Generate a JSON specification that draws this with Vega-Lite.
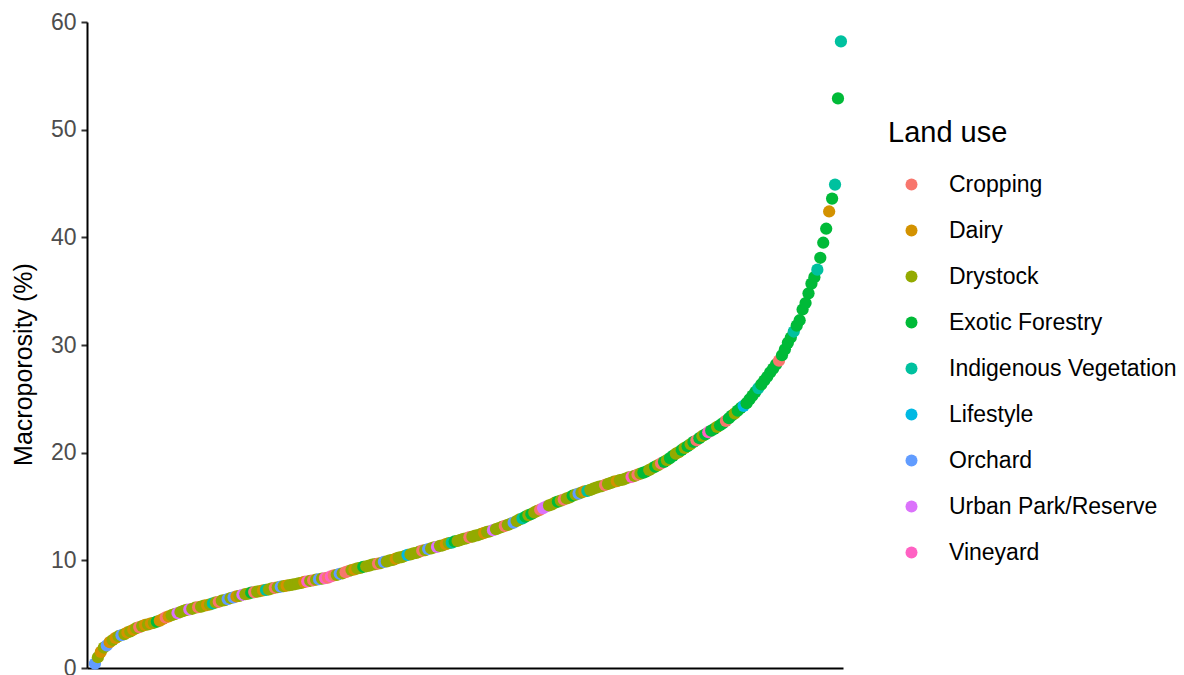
{
  "$schema": "https://vega.github.io/schema/vega-lite/v6.json",
  "autosize": "none",
  "width": 756,
  "height": 646,
  "padding": {"left": 87, "top": 22, "right": 341, "bottom": 7},
  "background": "white",
  "config": {
    "view": {"stroke": null},
    "font": "Liberation Sans, Arial, sans-serif"
  },
  "data": {"values": [
{"rank":1,"mp":0.4,"lu":"Orchard"},{"rank":2,"mp":1.0,"lu":"Drystock"},{"rank":3,"mp":1.5,"lu":"Dairy"},{"rank":4,"mp":1.9,"lu":"Drystock"},{"rank":5,"mp":2.1,"lu":"Orchard"},{"rank":6,"mp":2.4,"lu":"Dairy"},{"rank":7,"mp":2.6,"lu":"Drystock"},{"rank":8,"mp":2.8,"lu":"Dairy"},{"rank":9,"mp":2.95,"lu":"Drystock"},{"rank":10,"mp":3.05,"lu":"Orchard"},
{"rank":11,"mp":3.15,"lu":"Drystock"},{"rank":12,"mp":3.3,"lu":"Dairy"},{"rank":13,"mp":3.4,"lu":"Drystock"},{"rank":14,"mp":3.55,"lu":"Dairy"},{"rank":15,"mp":3.7,"lu":"Drystock"},{"rank":16,"mp":3.8,"lu":"Cropping"},{"rank":17,"mp":3.9,"lu":"Drystock"},{"rank":18,"mp":4.0,"lu":"Dairy"},{"rank":19,"mp":4.05,"lu":"Drystock"},{"rank":20,"mp":4.15,"lu":"Dairy"},
{"rank":21,"mp":4.2,"lu":"Drystock"},{"rank":22,"mp":4.3,"lu":"Exotic Forestry"},{"rank":23,"mp":4.4,"lu":"Dairy"},{"rank":24,"mp":4.55,"lu":"Dairy"},{"rank":25,"mp":4.7,"lu":"Cropping"},{"rank":26,"mp":4.8,"lu":"Dairy"},{"rank":27,"mp":4.9,"lu":"Drystock"},{"rank":28,"mp":5.0,"lu":"Drystock"},{"rank":29,"mp":5.1,"lu":"Urban Park/Reserve"},{"rank":30,"mp":5.2,"lu":"Drystock"},
{"rank":31,"mp":5.3,"lu":"Drystock"},{"rank":32,"mp":5.4,"lu":"Drystock"},{"rank":33,"mp":5.45,"lu":"Urban Park/Reserve"},{"rank":34,"mp":5.5,"lu":"Drystock"},{"rank":35,"mp":5.6,"lu":"Drystock"},{"rank":36,"mp":5.65,"lu":"Cropping"},{"rank":37,"mp":5.7,"lu":"Drystock"},{"rank":38,"mp":5.8,"lu":"Drystock"},{"rank":39,"mp":5.85,"lu":"Dairy"},{"rank":40,"mp":5.9,"lu":"Drystock"},
{"rank":41,"mp":6.0,"lu":"Indigenous Vegetation"},{"rank":42,"mp":6.1,"lu":"Drystock"},{"rank":43,"mp":6.15,"lu":"Cropping"},{"rank":44,"mp":6.25,"lu":"Drystock"},{"rank":45,"mp":6.3,"lu":"Drystock"},{"rank":46,"mp":6.4,"lu":"Orchard"},{"rank":47,"mp":6.5,"lu":"Drystock"},{"rank":48,"mp":6.55,"lu":"Orchard"},{"rank":49,"mp":6.65,"lu":"Dairy"},{"rank":50,"mp":6.7,"lu":"Drystock"},
{"rank":51,"mp":6.8,"lu":"Urban Park/Reserve"},{"rank":52,"mp":6.85,"lu":"Drystock"},{"rank":53,"mp":6.9,"lu":"Drystock"},{"rank":54,"mp":7.0,"lu":"Exotic Forestry"},{"rank":55,"mp":7.05,"lu":"Cropping"},{"rank":56,"mp":7.1,"lu":"Drystock"},{"rank":57,"mp":7.15,"lu":"Drystock"},{"rank":58,"mp":7.2,"lu":"Dairy"},{"rank":59,"mp":7.25,"lu":"Indigenous Vegetation"},{"rank":60,"mp":7.3,"lu":"Drystock"},
{"rank":61,"mp":7.4,"lu":"Drystock"},{"rank":62,"mp":7.45,"lu":"Cropping"},{"rank":63,"mp":7.5,"lu":"Drystock"},{"rank":64,"mp":7.55,"lu":"Orchard"},{"rank":65,"mp":7.6,"lu":"Drystock"},{"rank":66,"mp":7.65,"lu":"Dairy"},{"rank":67,"mp":7.7,"lu":"Drystock"},{"rank":68,"mp":7.75,"lu":"Drystock"},{"rank":69,"mp":7.8,"lu":"Drystock"},{"rank":70,"mp":7.85,"lu":"Drystock"},
{"rank":71,"mp":7.9,"lu":"Drystock"},{"rank":72,"mp":8.0,"lu":"Dairy"},{"rank":73,"mp":8.05,"lu":"Vineyard"},{"rank":74,"mp":8.1,"lu":"Drystock"},{"rank":75,"mp":8.15,"lu":"Cropping"},{"rank":76,"mp":8.2,"lu":"Drystock"},{"rank":77,"mp":8.25,"lu":"Orchard"},{"rank":78,"mp":8.3,"lu":"Drystock"},{"rank":79,"mp":8.35,"lu":"Vineyard"},{"rank":80,"mp":8.4,"lu":"Cropping"},
{"rank":81,"mp":8.5,"lu":"Vineyard"},{"rank":82,"mp":8.6,"lu":"Cropping"},{"rank":83,"mp":8.65,"lu":"Drystock"},{"rank":84,"mp":8.75,"lu":"Orchard"},{"rank":85,"mp":8.8,"lu":"Drystock"},{"rank":86,"mp":8.9,"lu":"Cropping"},{"rank":87,"mp":9.0,"lu":"Cropping"},{"rank":88,"mp":9.1,"lu":"Drystock"},{"rank":89,"mp":9.15,"lu":"Dairy"},{"rank":90,"mp":9.25,"lu":"Drystock"},
{"rank":91,"mp":9.3,"lu":"Drystock"},{"rank":92,"mp":9.4,"lu":"Exotic Forestry"},{"rank":93,"mp":9.45,"lu":"Drystock"},{"rank":94,"mp":9.5,"lu":"Drystock"},{"rank":95,"mp":9.6,"lu":"Drystock"},{"rank":96,"mp":9.65,"lu":"Drystock"},{"rank":97,"mp":9.7,"lu":"Cropping"},{"rank":98,"mp":9.75,"lu":"Drystock"},{"rank":99,"mp":9.85,"lu":"Orchard"},{"rank":100,"mp":9.9,"lu":"Drystock"},
{"rank":101,"mp":10.0,"lu":"Drystock"},{"rank":102,"mp":10.05,"lu":"Drystock"},{"rank":103,"mp":10.15,"lu":"Dairy"},{"rank":104,"mp":10.25,"lu":"Drystock"},{"rank":105,"mp":10.3,"lu":"Drystock"},{"rank":106,"mp":10.4,"lu":"Drystock"},{"rank":107,"mp":10.5,"lu":"Lifestyle"},{"rank":108,"mp":10.55,"lu":"Drystock"},{"rank":109,"mp":10.65,"lu":"Drystock"},{"rank":110,"mp":10.7,"lu":"Drystock"},
{"rank":111,"mp":10.8,"lu":"Drystock"},{"rank":112,"mp":10.9,"lu":"Cropping"},{"rank":113,"mp":10.95,"lu":"Drystock"},{"rank":114,"mp":11.05,"lu":"Orchard"},{"rank":115,"mp":11.1,"lu":"Drystock"},{"rank":116,"mp":11.2,"lu":"Drystock"},{"rank":117,"mp":11.25,"lu":"Urban Park/Reserve"},{"rank":118,"mp":11.35,"lu":"Drystock"},{"rank":119,"mp":11.4,"lu":"Drystock"},{"rank":120,"mp":11.5,"lu":"Dairy"},
{"rank":121,"mp":11.6,"lu":"Drystock"},{"rank":122,"mp":11.65,"lu":"Indigenous Vegetation"},{"rank":123,"mp":11.75,"lu":"Exotic Forestry"},{"rank":124,"mp":11.8,"lu":"Drystock"},{"rank":125,"mp":11.9,"lu":"Drystock"},{"rank":126,"mp":12.0,"lu":"Drystock"},{"rank":127,"mp":12.05,"lu":"Drystock"},{"rank":128,"mp":12.15,"lu":"Cropping"},{"rank":129,"mp":12.2,"lu":"Drystock"},{"rank":130,"mp":12.3,"lu":"Drystock"},
{"rank":131,"mp":12.35,"lu":"Drystock"},{"rank":132,"mp":12.45,"lu":"Drystock"},{"rank":133,"mp":12.55,"lu":"Dairy"},{"rank":134,"mp":12.65,"lu":"Drystock"},{"rank":135,"mp":12.7,"lu":"Drystock"},{"rank":136,"mp":12.8,"lu":"Urban Park/Reserve"},{"rank":137,"mp":12.9,"lu":"Drystock"},{"rank":138,"mp":13.0,"lu":"Drystock"},{"rank":139,"mp":13.1,"lu":"Drystock"},{"rank":140,"mp":13.2,"lu":"Cropping"},
{"rank":141,"mp":13.3,"lu":"Drystock"},{"rank":142,"mp":13.4,"lu":"Drystock"},{"rank":143,"mp":13.5,"lu":"Orchard"},{"rank":144,"mp":13.65,"lu":"Drystock"},{"rank":145,"mp":13.8,"lu":"Drystock"},{"rank":146,"mp":13.9,"lu":"Indigenous Vegetation"},{"rank":147,"mp":14.05,"lu":"Exotic Forestry"},{"rank":148,"mp":14.2,"lu":"Drystock"},{"rank":149,"mp":14.3,"lu":"Exotic Forestry"},{"rank":150,"mp":14.45,"lu":"Drystock"},
{"rank":151,"mp":14.6,"lu":"Drystock"},{"rank":152,"mp":14.7,"lu":"Cropping"},{"rank":153,"mp":14.85,"lu":"Urban Park/Reserve"},{"rank":154,"mp":15.0,"lu":"Urban Park/Reserve"},{"rank":155,"mp":15.1,"lu":"Drystock"},{"rank":156,"mp":15.2,"lu":"Drystock"},{"rank":157,"mp":15.35,"lu":"Drystock"},{"rank":158,"mp":15.45,"lu":"Exotic Forestry"},{"rank":159,"mp":15.55,"lu":"Drystock"},{"rank":160,"mp":15.65,"lu":"Cropping"},
{"rank":161,"mp":15.75,"lu":"Drystock"},{"rank":162,"mp":15.85,"lu":"Drystock"},{"rank":163,"mp":16.0,"lu":"Exotic Forestry"},{"rank":164,"mp":16.1,"lu":"Drystock"},{"rank":165,"mp":16.2,"lu":"Orchard"},{"rank":166,"mp":16.3,"lu":"Drystock"},{"rank":167,"mp":16.4,"lu":"Dairy"},{"rank":168,"mp":16.45,"lu":"Indigenous Vegetation"},{"rank":169,"mp":16.55,"lu":"Drystock"},{"rank":170,"mp":16.65,"lu":"Drystock"},
{"rank":171,"mp":16.75,"lu":"Drystock"},{"rank":172,"mp":16.85,"lu":"Drystock"},{"rank":173,"mp":16.9,"lu":"Drystock"},{"rank":174,"mp":17.0,"lu":"Cropping"},{"rank":175,"mp":17.1,"lu":"Drystock"},{"rank":176,"mp":17.2,"lu":"Drystock"},{"rank":177,"mp":17.3,"lu":"Drystock"},{"rank":178,"mp":17.35,"lu":"Dairy"},{"rank":179,"mp":17.45,"lu":"Drystock"},{"rank":180,"mp":17.5,"lu":"Drystock"},
{"rank":181,"mp":17.6,"lu":"Drystock"},{"rank":182,"mp":17.7,"lu":"Drystock"},{"rank":183,"mp":17.75,"lu":"Vineyard"},{"rank":184,"mp":17.85,"lu":"Drystock"},{"rank":185,"mp":17.95,"lu":"Cropping"},{"rank":186,"mp":18.05,"lu":"Drystock"},{"rank":187,"mp":18.15,"lu":"Exotic Forestry"},{"rank":188,"mp":18.25,"lu":"Exotic Forestry"},{"rank":189,"mp":18.4,"lu":"Drystock"},{"rank":190,"mp":18.55,"lu":"Drystock"},
{"rank":191,"mp":18.7,"lu":"Exotic Forestry"},{"rank":192,"mp":18.85,"lu":"Drystock"},{"rank":193,"mp":19.0,"lu":"Cropping"},{"rank":194,"mp":19.15,"lu":"Exotic Forestry"},{"rank":195,"mp":19.3,"lu":"Drystock"},{"rank":196,"mp":19.5,"lu":"Exotic Forestry"},{"rank":197,"mp":19.7,"lu":"Exotic Forestry"},{"rank":198,"mp":19.9,"lu":"Drystock"},{"rank":199,"mp":20.05,"lu":"Drystock"},{"rank":200,"mp":20.25,"lu":"Exotic Forestry"},
{"rank":201,"mp":20.45,"lu":"Drystock"},{"rank":202,"mp":20.6,"lu":"Exotic Forestry"},{"rank":203,"mp":20.8,"lu":"Drystock"},{"rank":204,"mp":21.0,"lu":"Exotic Forestry"},{"rank":205,"mp":21.15,"lu":"Cropping"},{"rank":206,"mp":21.35,"lu":"Exotic Forestry"},{"rank":207,"mp":21.55,"lu":"Drystock"},{"rank":208,"mp":21.7,"lu":"Exotic Forestry"},{"rank":209,"mp":21.9,"lu":"Vineyard"},{"rank":210,"mp":22.05,"lu":"Exotic Forestry"},
{"rank":211,"mp":22.2,"lu":"Exotic Forestry"},{"rank":212,"mp":22.4,"lu":"Drystock"},{"rank":213,"mp":22.55,"lu":"Exotic Forestry"},{"rank":214,"mp":22.75,"lu":"Exotic Forestry"},{"rank":215,"mp":22.95,"lu":"Cropping"},{"rank":216,"mp":23.2,"lu":"Exotic Forestry"},{"rank":217,"mp":23.45,"lu":"Exotic Forestry"},{"rank":218,"mp":23.65,"lu":"Drystock"},{"rank":219,"mp":23.9,"lu":"Exotic Forestry"},{"rank":220,"mp":24.15,"lu":"Exotic Forestry"},
{"rank":221,"mp":24.35,"lu":"Lifestyle"},{"rank":222,"mp":24.6,"lu":"Exotic Forestry"},{"rank":223,"mp":24.95,"lu":"Exotic Forestry"},{"rank":224,"mp":25.3,"lu":"Exotic Forestry"},{"rank":225,"mp":25.65,"lu":"Exotic Forestry"},{"rank":226,"mp":26.0,"lu":"Indigenous Vegetation"},{"rank":227,"mp":26.35,"lu":"Exotic Forestry"},{"rank":228,"mp":26.7,"lu":"Exotic Forestry"},{"rank":229,"mp":27.05,"lu":"Exotic Forestry"},{"rank":230,"mp":27.45,"lu":"Exotic Forestry"},
{"rank":231,"mp":27.8,"lu":"Exotic Forestry"},{"rank":232,"mp":28.2,"lu":"Exotic Forestry"},{"rank":233,"mp":28.55,"lu":"Cropping"},{"rank":234,"mp":29.05,"lu":"Exotic Forestry"},{"rank":235,"mp":29.6,"lu":"Exotic Forestry"},{"rank":236,"mp":30.2,"lu":"Exotic Forestry"},{"rank":237,"mp":30.7,"lu":"Exotic Forestry"},{"rank":238,"mp":31.25,"lu":"Indigenous Vegetation"},{"rank":239,"mp":31.8,"lu":"Exotic Forestry"},{"rank":240,"mp":32.3,"lu":"Exotic Forestry"},
{"rank":241,"mp":33.3,"lu":"Exotic Forestry"},{"rank":242,"mp":33.9,"lu":"Exotic Forestry"},{"rank":243,"mp":34.8,"lu":"Exotic Forestry"},{"rank":244,"mp":35.7,"lu":"Exotic Forestry"},{"rank":245,"mp":36.3,"lu":"Exotic Forestry"},{"rank":246,"mp":37.0,"lu":"Indigenous Vegetation"},{"rank":247,"mp":38.1,"lu":"Exotic Forestry"},{"rank":248,"mp":39.5,"lu":"Exotic Forestry"},{"rank":249,"mp":40.8,"lu":"Exotic Forestry"},{"rank":250,"mp":42.4,"lu":"Dairy"},
{"rank":251,"mp":43.6,"lu":"Exotic Forestry"},{"rank":252,"mp":44.9,"lu":"Indigenous Vegetation"},{"rank":253,"mp":52.9,"lu":"Exotic Forestry"},{"rank":254,"mp":58.2,"lu":"Indigenous Vegetation"}
  ]},
  "mark": {"type": "point", "filled": true, "size": 150, "opacity": 1, "strokeWidth": 0},
  "encoding": {
    "x": {
      "field": "rank", "type": "quantitative",
      "scale": {"domain": [-1.7, 254.7], "nice": false, "zero": false},
      "axis": {
        "title": null, "labels": false, "ticks": false, "grid": false,
        "domain": true, "domainColor": "black", "domainWidth": 2
      }
    },
    "y": {
      "field": "mp", "type": "quantitative",
      "scale": {"domain": [0, 60], "nice": false},
      "axis": {
        "title": "Macroporosity (%)",
        "values": [0, 10, 20, 30, 40, 50, 60],
        "grid": false,
        "domainColor": "black", "domainWidth": 2,
        "tickColor": "#333333", "tickSize": 6, "tickWidth": 2,
        "labelFontSize": 23, "labelColor": "#4D4D4D", "labelPadding": 5,
        "titleFontSize": 25, "titleFontWeight": "normal", "titleColor": "black",
        "titleX": -56, "titleY": 342, "titleBaseline": "alphabetic", "titleAngle": 270
      }
    },
    "color": {
      "field": "lu", "type": "nominal",
      "scale": {
        "domain": ["Cropping", "Dairy", "Drystock", "Exotic Forestry", "Indigenous Vegetation", "Lifestyle", "Orchard", "Urban Park/Reserve", "Vineyard"],
        "range": ["#F8766D", "#D39200", "#93AA00", "#00BA38", "#00C19F", "#00B9E3", "#619CFF", "#DB72FB", "#FF61C3"]
      },
      "legend": {
        "title": "Land use",
        "orient": "none",
        "legendX": 801,
        "legendY": 97,
        "titleFontSize": 29,
        "titleFontWeight": "normal",
        "titleColor": "black",
        "titlePadding": 25,
        "labelFontSize": 23,
        "labelColor": "black",
        "labelOffset": 26,
        "symbolOffset": 12,
        "symbolType": "circle",
        "symbolSize": 144,
        "symbolStrokeWidth": 0,
        "symbolOpacity": 1,
        "rowPadding": 22,
        "labelLimit": 400
      }
    }
  }
}
